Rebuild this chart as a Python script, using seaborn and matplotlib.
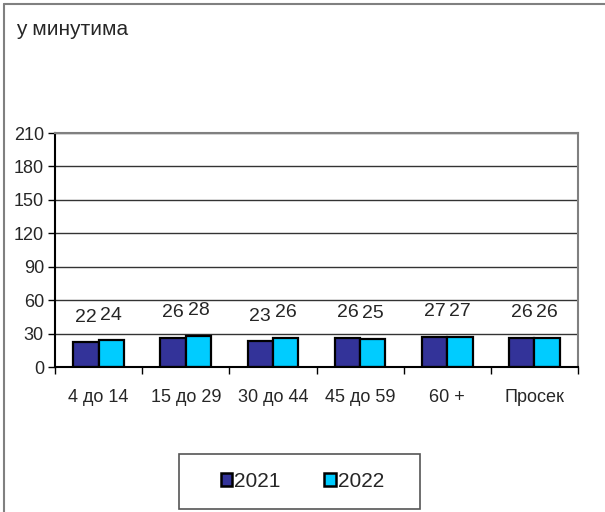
import pandas as pd
import numpy as np
import matplotlib
matplotlib.use("Agg")
import matplotlib.pyplot as plt
import seaborn as sns
from matplotlib.lines import Line2D
from matplotlib.patches import Rectangle

groups = ['4 до 14', '15 до 29', '30 до 44', '45 до 59', '60 +', 'Просек']
years = ['2021', '2022']
values_2021 = [22, 26, 23, 26, 27, 26]
values_2022 = [24, 28, 26, 25, 27, 26]
colors = ['#333399', '#00CCFF']

df = pd.DataFrame({
    'group': groups * 2,
    'year': [years[0]] * len(groups) + [years[1]] * len(groups),
    'value': values_2021 + values_2022,
})

sns.set_style('white')
plt.rcParams['font.family'] = ['Liberation Sans', 'DejaVu Sans']
fs = 13

fig = plt.figure(figsize=(6.05, 5.12), dpi=100)
ax = fig.add_axes([0.0909, 0.2832, 0.8645, 0.457])

sns.barplot(data=df, x='group', y='value', hue='year', palette=colors,
            saturation=1, width=0.58, gap=0, edgecolor='black', linewidth=1.6,
            legend=False, ax=ax)

for cont in ax.containers:
    for bar in cont:
        h = bar.get_height()
        ax.annotate(f'{int(h)}', (bar.get_x() + bar.get_width() / 2, h),
                    xytext=(0, 12), textcoords='offset points',
                    ha='center', va='bottom', fontsize=fs + 1)

ax.set_ylim(0, 210)
ax.set_yticks(range(0, 211, 30))
ax.set_xlim(-0.5, len(groups) - 0.5)
ax.set_xlabel('')
ax.set_ylabel('')
ax.yaxis.grid(True, color='#333333', linewidth=1)
ax.set_axisbelow(True)

ax.set_xticks(np.arange(-0.5, len(groups), 1), minor=True)
ax.tick_params(axis='x', which='major', length=0, pad=16, labelsize=fs)
ax.tick_params(axis='x', which='minor', length=5, width=1, color='black', direction='out')
ax.tick_params(axis='y', length=5, width=1, color='black', direction='out', pad=3, labelsize=fs)
ax.tick_params(bottom=True, left=True, which='both')

for s in ['top', 'right']:
    ax.spines[s].set_color('#808080')
    ax.spines[s].set_linewidth(1.5)
for s in ['left', 'bottom']:
    ax.spines[s].set_color('black')
    ax.spines[s].set_linewidth(1.5)

fig.text(0.026, 0.942, 'у минутима', fontsize=15, ha='left', va='center')

handles = [plt.Rectangle((0, 0), 1, 1, facecolor=c, edgecolor='black', linewidth=1.8) for c in colors]
fig.legend(handles, years, loc='center', bbox_to_anchor=(0.5, 0.06),
           ncol=2, fontsize=15, frameon=False,
           handlelength=0.55, handleheight=0.55,
           handletextpad=0.1, columnspacing=2.1, borderpad=0,
           borderaxespad=0)
fig.add_artist(Rectangle((0.296, 0.006), 0.398, 0.107, transform=fig.transFigure,
                         facecolor='none', edgecolor='#555555', linewidth=1.2))

fig.add_artist(Line2D([0.006, 0.006], [0, 0.993], transform=fig.transFigure, color='#808080', linewidth=1.5))
fig.add_artist(Line2D([0.006, 1], [0.993, 0.993], transform=fig.transFigure, color='#808080', linewidth=1.5))

fig.savefig('out.png', dpi=100)
